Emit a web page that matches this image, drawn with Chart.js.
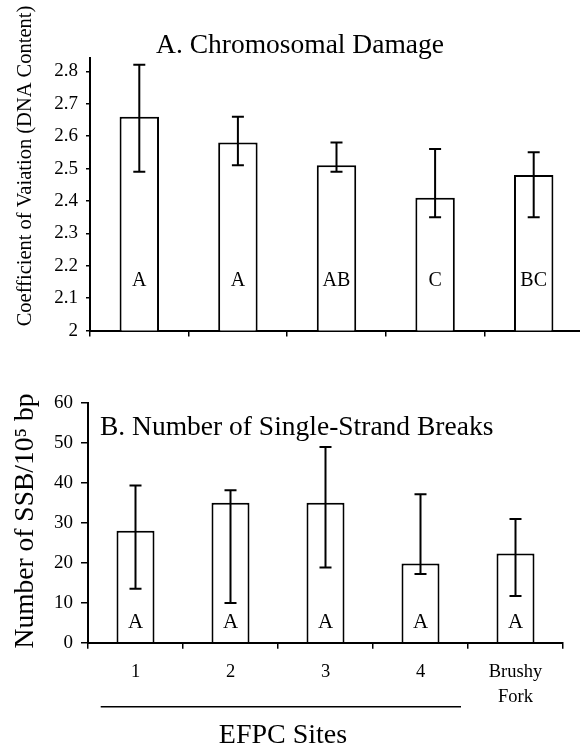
<!DOCTYPE html>
<html>
<head>
<meta charset="utf-8">
<script src="https://cdn.jsdelivr.net/npm/chart.js@4/dist/chart.umd.min.js"></script>
<style>
  html, body { margin: 0; padding: 0; background: #fff; overflow: hidden; width: 580px; height: 746px; }
  #wrapA { position: absolute; left: 0; top: 0; width: 590px; height: 350px; }
  #wrapB { position: absolute; left: 0; top: 350px; width: 580px; height: 396px; }
</style>
</head>
<body>
<div id="wrapA"><canvas id="chartA" width="590" height="350"></canvas></div>
<div id="wrapB"><canvas id="chartB" width="580" height="396"></canvas></div>
<script>
// ---- data ----
const categories = ['1', '2', '3', '4', ['Brushy', 'Fork']];

const cvMeans  = [2.66, 2.58, 2.51, 2.41, 2.48];
const cvUpper  = [2.82, 2.66, 2.58, 2.56, 2.55];
const cvLower  = [2.49, 2.51, 2.49, 2.35, 2.35];
const cvGroups = ['A', 'A', 'AB', 'C', 'BC'];

const ssbMeans  = [28, 35, 35, 19.8, 22.3];
const ssbUpper  = [39.3, 38.1, 48.9, 37.1, 30.9];
const ssbLower  = [13.5, 9.9, 18.8, 17.2, 11.7];
const ssbGroups = ['A', 'A', 'A', 'A', 'A'];

const titleA = 'A. Chromosomal Damage';
const titleB = 'B. Number of Single-Strand Breaks';
const yTitleA = 'Coefficient of Vaiation (DNA Content)';
const yTitleB = 'Number of SSB/10\u2075 bp';
const xTitle = 'EFPC Sites';

// ---- styling ----
const SERIF = '"Liberation Serif", "Times New Roman", serif';
Chart.defaults.font.family = SERIF;
Chart.defaults.color = '#000';

const annot = {
  id: 'annot',
  afterDatasetsDraw(chart, args, o) {
    const ctx = chart.ctx;
    const xs = chart.scales.x, ys = chart.scales.y;
    ctx.save();
    // error bars
    ctx.strokeStyle = '#000';
    ctx.lineWidth = 2;
    for (let i = 0; i < o.upper.length; i++) {
      const x = xs.getPixelForValue(i);
      const yt = ys.getPixelForValue(o.upper[i]);
      const yb = ys.getPixelForValue(o.lower[i]);
      ctx.beginPath();
      ctx.moveTo(x, yt); ctx.lineTo(x, yb);
      ctx.moveTo(x - 6, yt); ctx.lineTo(x + 6, yt);
      ctx.moveTo(x - 6, yb); ctx.lineTo(x + 6, yb);
      ctx.stroke();
    }
    // group letters
    ctx.fillStyle = '#000';
    ctx.font = o.letterSize + 'px ' + SERIF;
    ctx.textAlign = 'center';
    ctx.textBaseline = 'alphabetic';
    for (let i = 0; i < o.groups.length; i++) {
      ctx.fillText(o.groups[i], xs.getPixelForValue(i), ys.bottom - o.letterOffset);
    }
    // title
    ctx.font = o.titleSize + 'px ' + SERIF;
    ctx.textAlign = o.titleAlign;
    ctx.fillText(o.title, o.titleX, o.titleY);
    // y title
    ctx.save();
    ctx.translate(o.yTitleX, o.yTitleY);
    ctx.rotate(-Math.PI / 2);
    ctx.font = o.yTitleSize + 'px ' + SERIF;
    ctx.textAlign = 'center';
    ctx.textBaseline = 'middle';
    ctx.fillText(o.yTitle, 0, 0);
    ctx.restore();
    // x title with bracket line
    if (o.xTitle) {
      ctx.lineWidth = 1.5;
      ctx.beginPath();
      ctx.moveTo(o.lineX1, o.lineY); ctx.lineTo(o.lineX2, o.lineY);
      ctx.stroke();
      ctx.font = o.xTitleSize + 'px ' + SERIF;
      ctx.textAlign = 'center';
      ctx.textBaseline = 'alphabetic';
      ctx.fillText(o.xTitle, o.xTitleX, o.xTitleY);
    }
    ctx.restore();
  }
};

function barDataset(values) {
  return {
    data: values,
    backgroundColor: '#fff',
    borderColor: '#000',
    borderWidth: 2,
    barPercentage: 0.4,
    categoryPercentage: 1.0
  };
}

// ---- Chart A ----
new Chart(document.getElementById('chartA'), {
  type: 'bar',
  data: { labels: categories, datasets: [barDataset(cvMeans)] },
  plugins: [annot],
  options: {
    responsive: false,
    animation: false,
    devicePixelRatio: 1,
    layout: { padding: { top: 58.3, right: 7, left: 0, bottom: 0 } },
    plugins: {
      legend: { display: false },
      tooltip: { enabled: false },
      annot: {
        upper: cvUpper, lower: cvLower, groups: cvGroups,
        letterSize: 20, letterOffset: 45,
        title: titleA, titleSize: 27.5, titleAlign: 'center', titleX: 300, titleY: 53,
        yTitle: yTitleA, yTitleSize: 20.5, yTitleX: 26, yTitleY: 166
      }
    },
    scales: {
      x: {
        grid: { display: true, drawOnChartArea: false, drawTicks: true, tickLength: 6, color: '#000', lineWidth: 1.5 },
        border: { display: true, color: '#000', width: 2 },
        ticks: { display: false },
        afterFit(s) { s.height = 12; }
      },
      y: {
        min: 2, max: 2.84,
        grid: { display: true, drawOnChartArea: false, drawTicks: true, tickLength: 4, color: '#000', lineWidth: 1.5 },
        border: { display: true, color: '#000', width: 2 },
        ticks: {
          stepSize: 0.1, includeBounds: false, padding: 8,
          font: { size: 19 }, color: '#000',
          callback: v => String(+Number(v).toFixed(1))
        },
        afterFit(s) { s.width = 90; }
      }
    }
  }
});

// ---- Chart B ----
new Chart(document.getElementById('chartB'), {
  type: 'bar',
  data: { labels: categories, datasets: [barDataset(ssbMeans)] },
  plugins: [annot],
  options: {
    responsive: false,
    animation: false,
    devicePixelRatio: 1,
    layout: { padding: { top: 52.7, right: 17, left: 0, bottom: 0 } },
    plugins: {
      legend: { display: false },
      tooltip: { enabled: false },
      annot: {
        upper: ssbUpper, lower: ssbLower, groups: ssbGroups,
        letterSize: 21, letterOffset: 14.5,
        title: titleB, titleSize: 27.5, titleAlign: 'left', titleX: 100, titleY: 85,
        yTitle: yTitleB, yTitleSize: 27.5, yTitleX: 26, yTitleY: 171,
        xTitle: xTitle, xTitleSize: 28, xTitleX: 283, xTitleY: 393,
        lineX1: 100.7, lineX2: 461, lineY: 356.7
      }
    },
    scales: {
      x: {
        grid: { display: true, drawOnChartArea: false, drawTicks: true, tickLength: 6, color: '#000', lineWidth: 1.5 },
        border: { display: true, color: '#000', width: 2 },
        ticks: { padding: 10, font: { size: 18.5, lineHeight: 1.4 }, color: '#000', maxRotation: 0, autoSkip: false },
        afterFit(s) { s.height = 103.3; }
      },
      y: {
        min: 0, max: 60,
        grid: { display: true, drawOnChartArea: false, drawTicks: true, tickLength: 7, color: '#000', lineWidth: 1.5 },
        border: { display: true, color: '#000', width: 2 },
        ticks: { stepSize: 10, padding: 8, font: { size: 19 }, color: '#000' },
        afterFit(s) { s.width = 88; }
      }
    }
  }
});
</script>
</body>
</html>
